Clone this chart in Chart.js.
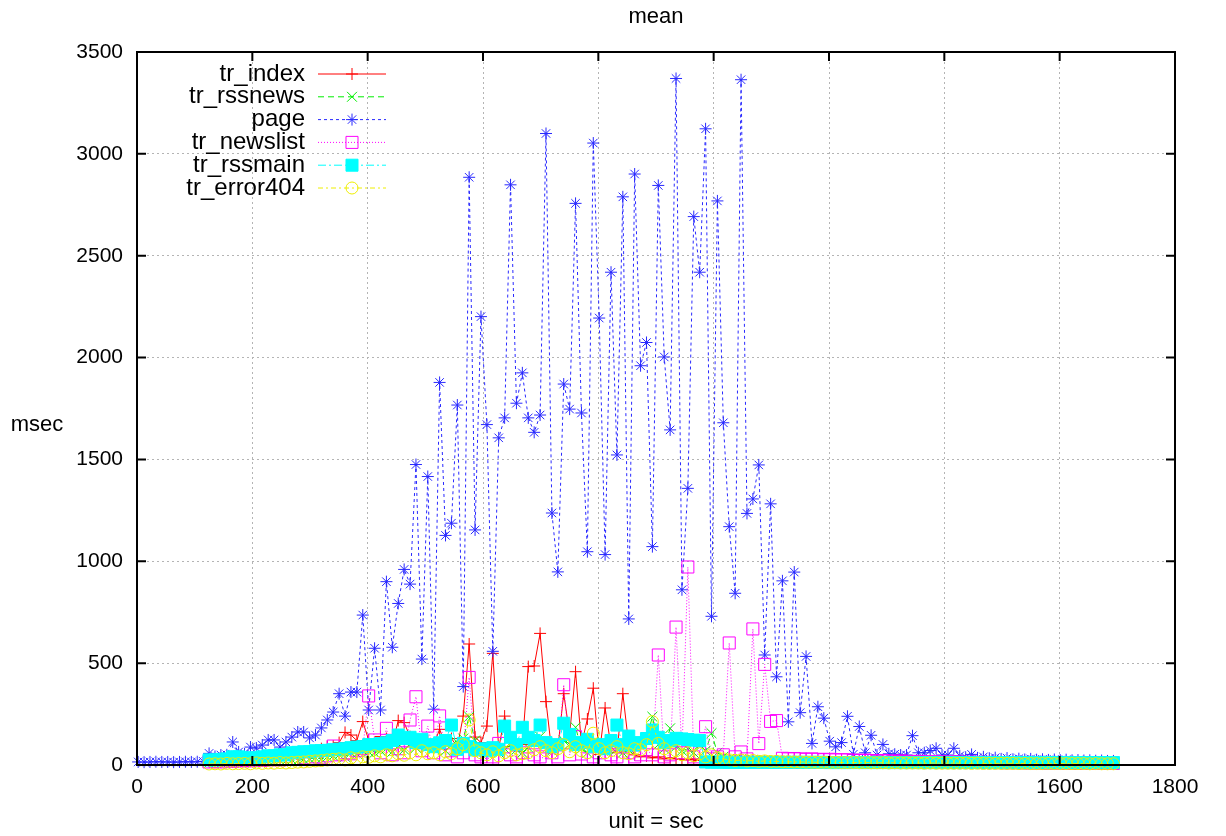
<!DOCTYPE html>
<html>
<head>
<meta charset="utf-8">
<title>mean</title>
<script src="https://cdn.jsdelivr.net/npm/chart.js@4.4.0/dist/chart.umd.min.js"></script>
<style>
html, body { margin: 0; padding: 0; background: #fff; }
#wrap { width: 1226px; height: 836px; }
</style>
</head>
<body>
<div id="wrap"><canvas id="myChart" width="1226" height="836"></canvas></div>
<script>
// sample grid (seconds): first sample and spacing
var T0 = 2;
var DT = 10.25;
var TR_START = 12; // the tr_* series start at the 13th sample

var xTicks = [0, 200, 400, 600, 800, 1000, 1200, 1400, 1600, 1800];
var yTicks = [0, 500, 1000, 1500, 2000, 2500, 3000, 3500];

var pageMean = [15,14,15,16,15,15,14,15,16,15,16,18,
57,42,49,50,
113,64,54,88,83,98,123,123,88,113,137,162,162,133,147,182,221,260,350,240,358,358,736,270,
573,270,900,578,793,960,888,1475,520,1416,274,1878,1127,1187,1767,385,2885,1154,2201,1671,558,1606,1704,2848,1776,1925,1704,1633,1718,3100,1237,948,1870,1747,2757,
1728,1047,3053,2194,1033,2419,1522,2789,717,2901,1960,2074,1072,2845,2003,1645,3370,860,1358,2692,2419,3123,730,2769,1680,1170,843,3364,1235,1306,1473,
540,1282,433,904,212,947,257,533,106,286,230,117,89,110,239,53,189,60,146,49,101,55,53,49,49,144,60,60,71,82,49,49,82,
45,38,52,35,40,33,36,30,34,28,31,27,30,26,28,25,27,24,26,23,24,22,23,21,22,20,20];

var trIndex = [20,25,22,30,28,25,30,35,30,40,35,45,40,50,
45,55,50,60,70,80,90,93,
110,160,147,120,213,123,
90,140,130,100,218,208,139,110,80,120,
100,175,100,130,90,240,594,137,110,191,
548,80,240,90,70,100,483,486,646,311,
60,80,350,150,458,100,226,377,52,280,
90,60,350,98,50,40,45,35,40,30,
35,30,28,25,30,22,25,20,22,20,
20,18,20,17,18,16,18,15,17,15,
16,15,14,15,14,13,14,13,14,13,
12,13,12,13,12,12,11,12,11,12,
11,11,12,11,10,11,10,11,10,10,
11,10,10,10,9,10,10,9,10,9,
10,9,9,10,9,9,10,9,9,9,
8,9,9,8,9,8];

var trRssnews = [10,12,10,15,12,14,15,12,18,15,20,18,22,20,
25,22,28,30,35,30,40,45,
50,40,60,55,70,65,
60,70,80,65,90,75,100,85,110,90,
80,100,70,95,110,130,237,120,80,70,
90,60,80,100,75,60,85,110,139,100,
70,90,120,100,185,80,60,110,90,70,
106,80,60,75,90,110,130,237,100,80,
180,90,70,80,60,100,70,156,60,40,
30,25,28,22,25,20,22,18,20,18,
17,18,16,17,15,16,15,15,14,15,
14,14,13,14,13,13,12,13,12,12,
12,11,12,11,11,11,10,11,10,10,
10,10,9,10,9,10,9,9,9,9,
9,8,9,8,8,9,8,8,8,8,
8,7,8,7,7,7];

var trNewslist = [15,18,15,20,18,20,22,20,25,22,25,28,25,30,
28,30,35,32,40,35,45,93,
50,60,55,70,80,339,
123,60,180,50,80,60,221,335,70,191,
60,241,50,70,40,60,430,50,40,30,
40,106,30,50,40,60,30,50,40,30,
60,40,394,50,139,54,30,40,60,30,
50,40,30,60,40,50,74,50,540,40,
50,677,60,972,40,60,188,30,40,50,
599,40,64,30,668,105,494,214,218,33,
30,32,30,28,30,28,26,28,25,26,
25,24,22,24,22,20,22,20,18,20,
18,16,18,16,15,16,15,14,15,14,
13,14,13,12,13,12,12,11,12,11,
11,10,11,10,10,10,10,9,10,9,
9,9,9,8,9,8];

var trRssmain = [25,25,28,30,40,40,35,35,35,40,45,45,50,50,
60,62,65,65,70,70,72,75,
78,80,85,88,90,100,
100,105,109,120,147,130,136,110,126,100,
90,109,120,196,77,106,90,74,80,70,
85,77,191,136,100,185,136,120,196,110,
90,100,205,150,100,110,126,90,100,80,
120,196,100,142,98,110,130,172,136,110,
120,131,128,125,122,120,15,14,14,14,
13,13,13,13,13,13,13,13,13,13,
13,13,13,13,13,13,13,12,12,12,
12,12,12,12,12,12,12,12,12,12,
12,12,12,12,12,12,12,12,12,12,
12,12,12,12,12,12,12,12,12,12,
12,12,12,12,12,12,12,12,12,12,
12,12,12,12,12,12];

var trError404 = [5,6,5,8,6,7,8,6,10,8,10,9,12,10,
12,14,15,18,20,22,25,28,
30,25,35,30,40,38,
45,40,50,45,55,48,60,50,70,55,
60,50,65,55,80,100,221,70,60,50,
65,45,60,70,50,55,60,75,90,70,
60,80,100,65,90,70,60,156,80,60,
70,90,60,55,80,75,100,213,106,80,
60,70,50,60,45,55,40,50,35,30,
25,22,24,20,22,18,20,17,18,16,
16,15,15,14,14,13,14,13,13,12,
12,12,11,12,11,11,11,10,11,10,
10,10,10,9,10,9,9,9,9,9,
9,8,9,8,8,8,8,8,8,7,
8,7,7,7,8,7,7,7,7,7,
7,6,7,6,6,6];

var FONT = '"Liberation Sans", Arial, Helvetica, sans-serif';
var TICK_SIZE = 21;
var KEY_SIZE = 24;
var LABEL_SIZE = 22;

function toPoints(values, start) {
  return values.map(function (v, i) {
    return { x: T0 + (start + i) * DT, y: v };
  });
}

// name, data, colour, dash, point style, radius, filled marker
var seriesDefs = [
  { label: 'tr_index',    data: toPoints(trIndex, TR_START),    color: '#ff0000', dash: [],           style: 'cross',    r: 6,   fill: false },
  { label: 'tr_rssnews',  data: toPoints(trRssnews, TR_START),  color: '#00ee00', dash: [6, 4],       style: 'crossRot', r: 7,   fill: false },
  { label: 'page',        data: toPoints(pageMean, 0),          color: '#2828ff', dash: [3, 3],       style: 'star',     r: 6,   fill: false },
  { label: 'tr_newslist', data: toPoints(trNewslist, TR_START), color: '#ff00ff', dash: [1, 2],       style: 'rect',     r: 8.5, fill: false },
  { label: 'tr_rssmain',  data: toPoints(trRssmain, TR_START),  color: '#00ffff', dash: [8, 3, 2, 3], style: 'rect',     r: 8.5, fill: true },
  { label: 'tr_error404', data: toPoints(trError404, TR_START), color: '#eeee00', dash: [5, 3, 2, 3], style: 'circle',   r: 6,   fill: false }
];

var datasets = seriesDefs.map(function (s, i) {
  return {
    label: s.label,
    data: s.data,
    borderColor: s.color,
    borderWidth: 1,
    borderDash: s.dash,
    backgroundColor: 'transparent',
    pointStyle: s.style,
    pointRadius: s.r,
    pointHoverRadius: s.r,
    pointBorderColor: s.color,
    pointBorderWidth: 1,
    pointBackgroundColor: s.fill ? s.color : 'rgba(0,0,0,0)',
    fill: false,
    tension: 0,
    clip: false,
    order: seriesDefs.length - i   // later series drawn on top, like gnuplot
  };
});

function drawMarker(ctx, style, x, y, r, color, filled) {
  ctx.save();
  ctx.setLineDash([]);
  ctx.strokeStyle = color;
  ctx.fillStyle = color;
  ctx.lineWidth = 1;
  ctx.beginPath();
  if (style === 'cross' || style === 'star') {
    ctx.moveTo(x - r, y); ctx.lineTo(x + r, y);
    ctx.moveTo(x, y - r); ctx.lineTo(x, y + r);
  }
  if (style === 'crossRot' || style === 'star') {
    var d = r * Math.SQRT1_2;
    ctx.moveTo(x - d, y - d); ctx.lineTo(x + d, y + d);
    ctx.moveTo(x - d, y + d); ctx.lineTo(x + d, y - d);
  }
  if (style === 'rect') {
    var s = r * Math.SQRT1_2;
    ctx.rect(x - s, y - s, 2 * s, 2 * s);
    if (filled) ctx.fill();
  }
  if (style === 'circle') {
    ctx.arc(x, y, r, 0, Math.PI * 2);
  }
  ctx.stroke();
  ctx.restore();
}

var gnuplotFrame = {
  id: 'gnuplotFrame',
  afterDatasetsDraw: function (chart) {
    var ctx = chart.ctx;
    var a = chart.chartArea;
    var xs = chart.scales.x, ys = chart.scales.y;
    ctx.save();
    // border
    ctx.strokeStyle = '#000';
    ctx.lineWidth = 2;
    ctx.setLineDash([]);
    ctx.strokeRect(a.left, a.top, a.right - a.left, a.bottom - a.top);
    // inward ticks on all sides
    ctx.beginPath();
    xTicks.forEach(function (v) {
      var px = xs.getPixelForValue(v);
      ctx.moveTo(px, a.bottom); ctx.lineTo(px, a.bottom - 9);
      ctx.moveTo(px, a.top); ctx.lineTo(px, a.top + 9);
    });
    yTicks.forEach(function (v) {
      var py = ys.getPixelForValue(v);
      ctx.moveTo(a.left, py); ctx.lineTo(a.left + 9, py);
      ctx.moveTo(a.right, py); ctx.lineTo(a.right - 9, py);
    });
    ctx.stroke();

    // titles
    ctx.fillStyle = '#000';
    ctx.font = LABEL_SIZE + 'px ' + FONT;
    ctx.textAlign = 'center';
    ctx.textBaseline = 'middle';
    var cx = (a.left + a.right) / 2;
    ctx.fillText('mean', cx, 17);
    ctx.fillText('unit = sec', cx, 822);
    ctx.fillText('msec', 37, 425);

    // key, top left inside the plot
    ctx.font = KEY_SIZE + 'px ' + FONT;
    seriesDefs.forEach(function (s, i) {
      var y = 74 + i * 22.8;
      ctx.fillStyle = '#000';
      ctx.textAlign = 'right';
      ctx.fillText(s.label, 305, y);
      ctx.strokeStyle = s.color;
      ctx.lineWidth = 1;
      ctx.setLineDash(s.dash);
      ctx.beginPath();
      ctx.moveTo(318, y); ctx.lineTo(386, y);
      ctx.stroke();
      drawMarker(ctx, s.style, 352, y, s.r, s.color, s.fill);
    });
    ctx.restore();
  }
};

function plainTick(v) { return String(v); }

new Chart(document.getElementById('myChart'), {
  type: 'line',
  data: { datasets: datasets },
  plugins: [gnuplotFrame],
  options: {
    responsive: false,
    animation: false,
    events: [],
    layout: { padding: { top: 52, right: 51, left: 0, bottom: 0 } },
    plugins: {
      legend: { display: false },
      title: { display: false },
      tooltip: { enabled: false }
    },
    scales: {
      x: {
        type: 'linear',
        min: 0,
        max: 1800,
        afterFit: function (s) { s.height = 71; },
        afterBuildTicks: function (s) { s.ticks = xTicks.map(function (v) { return { value: v }; }); },
        ticks: { color: '#000', font: { family: FONT, size: TICK_SIZE }, padding: 10, maxRotation: 0, autoSkip: false, callback: plainTick },
        grid: { color: '#b4b4b4', lineWidth: 1, drawTicks: false },
        border: { display: false, dash: [2, 3] }
      },
      y: {
        type: 'linear',
        min: 0,
        max: 3500,
        afterFit: function (s) { s.width = 137; },
        afterBuildTicks: function (s) { s.ticks = yTicks.map(function (v) { return { value: v }; }); },
        ticks: { color: '#000', font: { family: FONT, size: TICK_SIZE }, padding: 14, callback: plainTick },
        grid: { color: '#b4b4b4', lineWidth: 1, drawTicks: false },
        border: { display: false, dash: [2, 3] }
      }
    }
  }
});
</script>
</body>
</html>
